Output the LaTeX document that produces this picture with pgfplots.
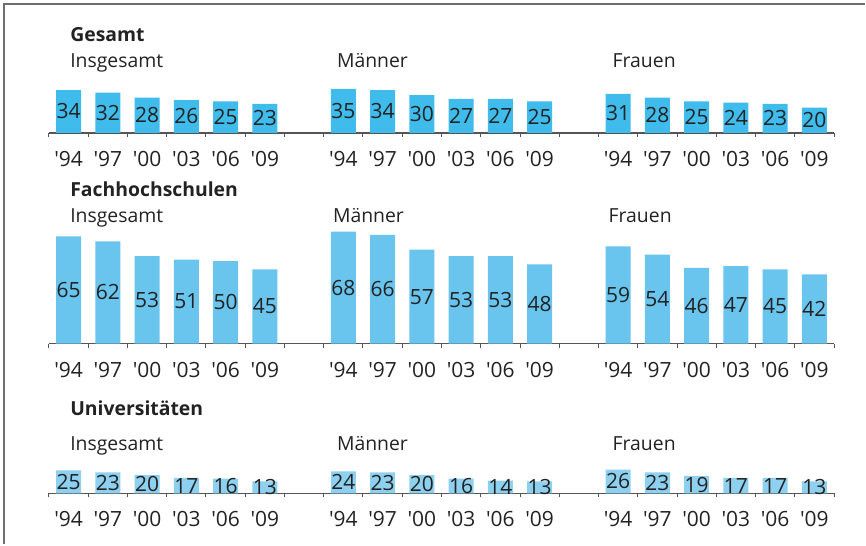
\documentclass[border=0pt]{standalone}
\usepackage{fontspec}
\setmainfont{Open Sans}
\usepackage{pgfplots}
\usepackage{pgfplotstable}
\pgfplotsset{compat=1.18}

\definecolor{barA}{HTML}{3FBCEC}
\definecolor{barB}{HTML}{69C4EE}
\definecolor{barC}{HTML}{8ED0F0}
\definecolor{framegray}{HTML}{6E6E6E}
\definecolor{axisgray}{HTML}{555555}
\definecolor{txt}{HTML}{222222}

% x = slot centre; three groups of six years with an empty slot between
\pgfplotstableread{
x    ges fh  uni
0.5  34  65  25
1.5  32  62  23
2.5  28  53  20
3.5  26  51  17
4.5  25  50  16
5.5  23  45  13
7.5  35  68  24
8.5  34  66  23
9.5  30  57  20
10.5 27  53  16
11.5 27  53  14
12.5 25  48  13
14.5 31  59  26
15.5 28  54  23
16.5 25  46  19
17.5 24  47  17
18.5 23  45  17
19.5 20  42  13
}\data

\newcommand{\yr}[1]{\textquotesingle#1}
\pgfplotsset{
  panelrow/.style={
    scale only axis, width=393pt, anchor=south west,
    xmin=0, xmax=20, ymin=0, clip=false,
    axis x line*=bottom, axis y line=none,
    x axis line style={-, draw=axisgray, line width=0.7pt},
    xtick={0.5,1.5,2.5,3.5,4.5,5.5,7.5,8.5,9.5,10.5,11.5,12.5,14.5,15.5,16.5,17.5,18.5,19.5},
    xticklabels={\yr{94},\yr{97},\yr{00},\yr{03},\yr{06},\yr{09},
                 \yr{94},\yr{97},\yr{00},\yr{03},\yr{06},\yr{09},
                 \yr{94},\yr{97},\yr{00},\yr{03},\yr{06},\yr{09}},
    minor xtick={0,1,...,20},
    major tick length=0pt, minor tick length=2pt, tick align=outside,
    tick style={draw=axisgray, line width=0.5pt},
    xticklabel style={font=\fontsize{10.5}{12}\selectfont, text=txt, yshift=-5.6pt},
    /pgf/number format/assume math mode=true,
  },
  vals/.style={draw=none, mark=none, nodes near coords, point meta=explicit,
    nodes near coords style={anchor=center, font=\fontsize{10.5}{12}\selectfont, text=txt}},
}

\begin{document}
\begin{tikzpicture}
\path (0,0) rectangle (433pt,272.5pt);

% Gesamt
\begin{axis}[panelrow, at={(24.5pt,206pt)}, height=25.2pt, ymax=40]
\addplot[ybar, bar shift=0pt, bar width=12.5pt, fill=barA, draw=none] table[x=x,y=ges]{\data};
\addplot[vals] table[x=x, y expr=\thisrow{ges}/2, meta=ges]{\data};
\end{axis}

% Fachhochschulen
\begin{axis}[panelrow, at={(24.5pt,100.5pt)}, height=57.75pt, ymax=70]
\addplot[ybar, bar shift=0pt, bar width=12.5pt, fill=barB, draw=none] table[x=x,y=fh]{\data};
\addplot[vals] table[x=x, y expr=\thisrow{fh}/2, meta=fh]{\data};
\end{axis}

% Universitaeten
\begin{axis}[panelrow, at={(24.5pt,25.5pt)}, height=13.8pt, ymax=30]
\addplot[ybar, bar shift=0pt, bar width=12.5pt, fill=barC, draw=none] table[x=x,y=uni]{\data};
\addplot[vals] table[x=x, y expr=\thisrow{uni}/2, meta=uni]{\data};
\end{axis}

\begin{scope}[every node/.style={anchor=base west, inner sep=0pt, text=txt}]
\node[font=\bfseries\fontsize{9.7}{11}\selectfont] at (35pt,251.5pt) {Gesamt};
\node[font=\fontsize{9.7}{11}\selectfont] at (35pt,238.5pt) {Insgesamt};
\node[font=\fontsize{9.7}{11}\selectfont] at (168.5pt,238.5pt) {Männer};
\node[font=\fontsize{9.7}{11}\selectfont] at (306.5pt,238.5pt) {Frauen};

\node[font=\bfseries\fontsize{9.7}{11}\selectfont] at (35pt,174pt) {Fachhochschulen};
\node[font=\fontsize{9.7}{11}\selectfont] at (35pt,161pt) {Insgesamt};
\node[font=\fontsize{9.7}{11}\selectfont] at (166.5pt,161pt) {Männer};
\node[font=\fontsize{9.7}{11}\selectfont] at (304.5pt,161pt) {Frauen};

\node[font=\bfseries\fontsize{9.7}{11}\selectfont] at (35pt,64.5pt) {Universitäten};
\node[font=\fontsize{9.7}{11}\selectfont] at (35pt,47pt) {Insgesamt};
\node[font=\fontsize{9.7}{11}\selectfont] at (168.5pt,47pt) {Männer};
\node[font=\fontsize{9.7}{11}\selectfont] at (306.5pt,47pt) {Frauen};
\end{scope}

\draw[framegray, line width=1pt] (2pt,0) -- (2pt,270.5pt) -- (433pt,270.5pt);
\end{tikzpicture}
\end{document}
